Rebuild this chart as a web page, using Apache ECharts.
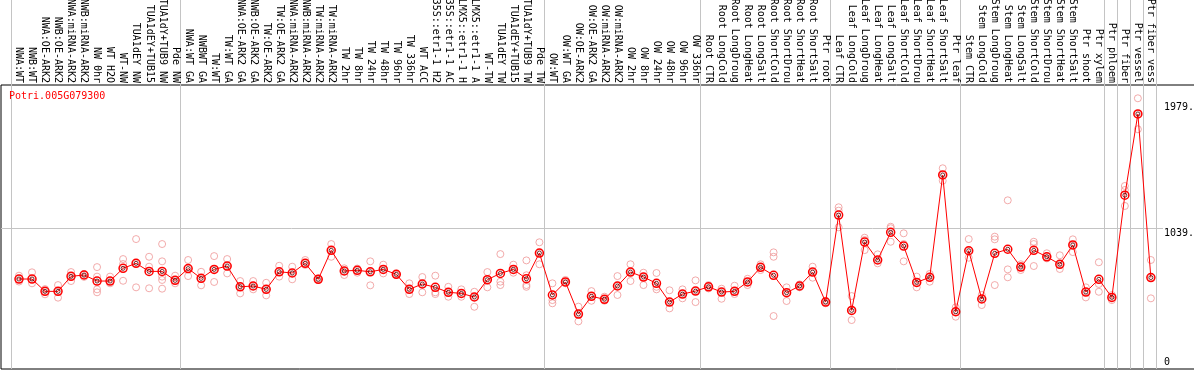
<!DOCTYPE html>
<html>
<head>
<meta charset="utf-8">
<script src="https://cdn.jsdelivr.net/npm/echarts@6/dist/echarts.min.js"></script>
<style>html,body{margin:0;padding:0;background:#fff}#c{width:1194px;height:370px}</style>
</head>
<body>
<div id="c"></div>
<script>
const geneName = 'Potri.005G079300';

const categories = [
  'NWA:WT','NWB:WT','NWA:OE-ARK2','NWB:OE-ARK2','NWA:miRNA-ARK2','NWB:miRNA-ARK2','NW 0hr','WT H2O','WT-NW','TUA1dEY NW','TUA1dEY+TUB15','TUA1dY+TUB9 NW','Pde NW',
  'NWA:WT GA','NWBWT GA','TW:WT','TW:WT GA','NWA:OE-ARK2 GA','NWB:OE-ARK2 GA','TW:OE-ARK2','TW:OE-ARK2 GA','NWA:miRNA-ARK2','NWB:miRNA-ARK2','TW:miRNA-ARK2','TW:miRNA-ARK2',
  'TW 2hr','TW 8hr','TW 24hr','TW 48hr','TW 96hr','TW 336hr','WT ACC','35S::etr1-1 H2','35S::etr1-1 AC','LMX5::etr1-1 H','LMX5::etr1-1 A','WT-TW','TUA1dEY TW','TUA1dEY+TUB15','TUA1dY+TUB9 TW','Pde TW',
  'OW:WT','OW:WT GA','OW:OE-ARK2','OW:OE-ARK2 GA','OW:miRNA-ARK2','OW:miRNA-ARK2','OW 2hr','OW 8hr','OW 24hr','OW 48hr','OW 96hr','OW 336hr',
  'Root CTR','Root LongCold','Root LongDroug','Root LongHeat','Root LongSalt','Root ShortCold','Root ShortDrou','Root ShortHeat','Root ShortSalt','Ptr root',
  'Leaf CTR','Leaf LongCold','Leaf LongDroug','Leaf LongHeat','Leaf LongSalt','Leaf ShortCold','Leaf ShortDrou','Leaf ShortHeat','Leaf ShortSalt','Ptr leaf',
  'Stem CTR','Stem LongCold','Stem LongDroug','Stem LongHeat','Stem LongSalt','Stem ShortCold','Stem ShortDrou','Stem ShortHeat','Stem ShortSalt','Ptr shoot','Ptr xylem',
  'Ptr phloem','Ptr fiber','Ptr vessel','Ptr fiber vess'
];

const means = [
  661,661,569,569,681,691,646,646,741,778,
  718,718,651,739,666,733,758,603,609,584,
  715,706,778,659,875,721,726,715,733,696,
  584,624,599,562,554,527,656,703,733,663,
  855,542,639,400,532,510,609,713,676,629,
  489,549,571,603,564,569,639,748,689,559,
  609,713,489,1138,427,937,803,1009,907,636,
  674,1437,417,872,512,853,883,750,875,827,
  771,915,564,659,524,1286,1892,672
];

const replicates = [
  [686,661,642],[711,661,629],[586,569,547],[616,569,522],[713,681,646],[699,691,677],[750,679,584,562],[679,646,629],[810,773,648],[959,778,599],
  [827,753,592],[922,793,679,654,589],[686,651,629],[803,739,683],[715,666,614],[832,733,639],[810,758,703],[646,603,554],[646,609,584],[633,584,539],
  [760,715,679],[753,706,659],[803,778,766],[665,659,655],[922,875,827],[741,721,691],[739,726,708],[793,715,614],[768,733,703],[700,696,692],
  [629,584,549],[676,624,562],[686,562,549],[603,562,529],[584,554,529],[566,527,454],[713,656,599],[847,641,616],[768,733,708],[800,689,616,603],
  [935,855,771],[629,504,480],[654,639,629],[455,400,345],[571,532,499],[529,510,499],[683,609,542],[771,713,646],[708,676,616],[706,603,584],
  [577,489,442],[584,549,517],[651,571,489],[616,603,591],[589,564,514],[611,569,549],[663,639,616],[771,748,728],[860,827,385],[599,559,497],
  [621,609,599],[753,713,671],[499,489,480],[1196,1171,1047],[534,427,355],[969,952,877],[845,803,778],[1051,1040,939],[1002,922,793],[679,636,599],
  [699,674,641],[1487,1437,1394],[450,417,380],[959,872,820],[542,512,467],[977,957,616],[1248,733,674],[771,750,728],[939,922,758],[853,827,815],
  [838,771,736],[957,915,862],[599,564,524],[786,624,566],[542,524,504],[1355,1325,1206],[2009,1892,1778],[803,672,517]
];

// index of the first category of each group (and the end)
const groupStarts = [0, 13, 41, 53, 63, 73, 84, 85, 86, 87, 88];
const yTickValues = [1039, 1979];
const yZeroTick = [0];
const yGridValue = 1039;

const FONT = 'DejaVu Sans Mono';
const scatterData = [];
replicates.forEach((arr, i) => arr.forEach(v => scatterData.push([i, v])));
const meanData = means.map((v, i) => [i, v]);

const X_MIN = -1.3835, X_MAX = 87.932, Y_MIN = -10, Y_MAX = 2742;
const gridShift = 0.62;

const chart = echarts.init(document.getElementById('c'), null, {renderer: 'canvas'});
chart.setOption({
  animation: false,
  backgroundColor: '#ffffff',
  title: {
    text: geneName, left: 9, top: 91, padding: 0,
    textStyle: {color: '#ff0000', fontFamily: FONT, fontSize: 10, fontWeight: 'normal'}
  },
  grid: [
    {left: 1, right: 31, top: 0, bottom: 1, outerBoundsMode: 'none', containLabel: false},
    {left: 1, right: -5, top: 85, bottom: 1, show: true, borderColor: '#000', borderWidth: 1, backgroundColor: 'transparent', outerBoundsMode: 'none', containLabel: false},
    {left: 1, right: 31, top: 0, bottom: 1, outerBoundsMode: 'none', containLabel: false}
  ],
  xAxis: [
    {
      type: 'value', gridIndex: 0, position: 'top', offset: -85, min: X_MIN, max: X_MAX,
      axisLine: {show: false, onZero: false}, axisTick: {show: false}, splitLine: {show: false},
      axisLabel: {
        customValues: categories.map((_, i) => i),
        formatter: v => categories[Math.round(v)] || '',
        rotate: 90, margin: 2, fontFamily: FONT, fontSize: 10, color: '#000',
        showMinLabel: true, showMaxLabel: true, hideOverlap: false
      }
    },
    {type: 'value', gridIndex: 1, show: false},
    {type: 'value', gridIndex: 2, show: false, min: X_MIN, max: X_MAX}
  ],
  yAxis: [
    {
      type: 'value', gridIndex: 0, position: 'right', min: Y_MIN, max: Y_MAX,
      axisLine: {show: false}, axisTick: {show: false}, splitLine: {show: false},
      axisLabel: {
        customValues: yTickValues, formatter: v => v + '.',
        margin: 1, align: 'left', verticalAlign: 'top',
        fontFamily: FONT, fontSize: 10, color: '#000'
      }
    },
    {type: 'value', gridIndex: 1, show: false},
    {
      type: 'value', gridIndex: 2, position: 'right', min: Y_MIN, max: Y_MAX,
      axisLine: {show: false}, axisTick: {show: false}, splitLine: {show: false},
      axisLabel: {
        customValues: yZeroTick, formatter: v => String(v),
        margin: 1, align: 'left', verticalAlign: 'bottom',
        fontFamily: FONT, fontSize: 10, color: '#000'
      }
    }
  ],
  series: [
    {
      type: 'scatter', xAxisIndex: 0, yAxisIndex: 0, data: scatterData,
      symbol: 'circle', symbolSize: 7, silent: true, z: 2,
      itemStyle: {color: 'rgba(0,0,0,0)', borderColor: '#ef9696', borderWidth: 1},
      markLine: {
        silent: true, symbol: ['none', 'none'], z: 0,
        label: {show: false},
        lineStyle: {color: '#c4c4c4', width: 1, type: 'solid'},
        emphasis: {disabled: true},
        data: groupStarts.map(k => ({xAxis: k - gridShift})).concat([{yAxis: yGridValue}])
      }
    },
    {
      type: 'line', xAxisIndex: 0, yAxisIndex: 0, data: meanData,
      symbol: 'circle', symbolSize: 8, showAllSymbol: true, silent: true, z: 3,
      lineStyle: {color: '#ff0000', width: 1},
      itemStyle: {color: 'rgba(0,0,0,0)', borderColor: '#ff0000', borderWidth: 1.5}
    },
    {
      type: 'scatter', xAxisIndex: 0, yAxisIndex: 0, data: meanData,
      symbol: 'circle', symbolSize: 4, silent: true, z: 4,
      itemStyle: {color: 'rgba(0,0,0,0)', borderColor: '#500000', borderWidth: 1}
    }
  ]
});
</script>
</body>
</html>
